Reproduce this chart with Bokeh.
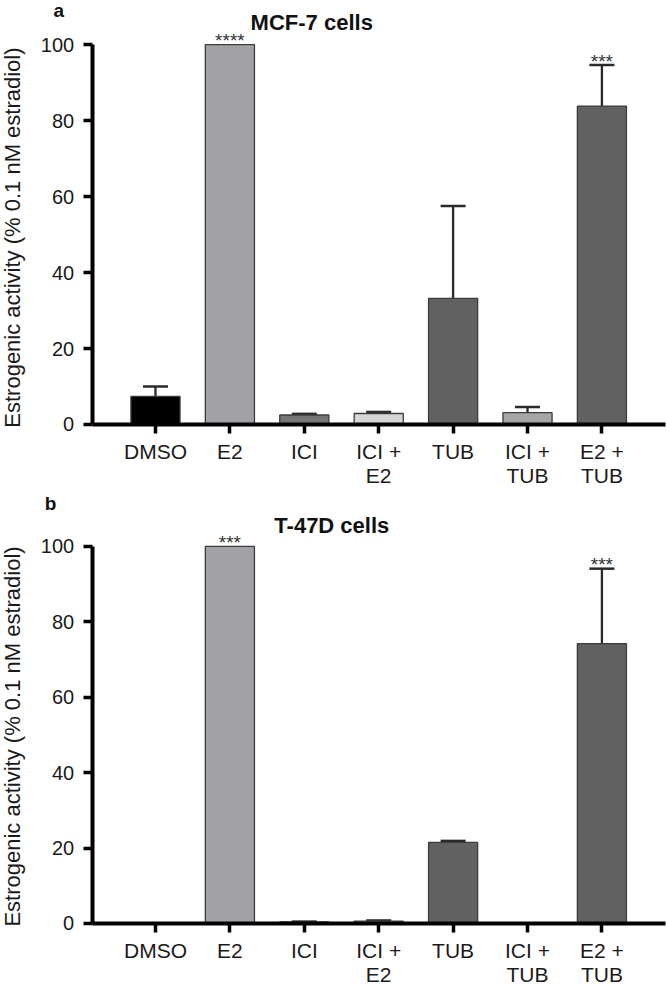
import math
from bokeh.plotting import figure
from bokeh.models import Range1d, FixedTicker, Label, Whisker, ColumnDataSource, TeeHead
from bokeh.layouts import column
from bokeh.embed import file_html
from bokeh.resources import INLINE
from bokeh.core.properties import value

# ---------------- data ----------------
categories = ["DMSO", "E2", "ICI", "ICI +\nE2", "TUB", "ICI +\nTUB", "E2 +\nTUB"]
bar_colors = ["#000000", "#a2a2a6", "#767676", "#d6d6d6", "#616161", "#a6a6a6", "#616161"]

mcf7_mean = [7.4, 100.0, 2.5, 2.9, 33.2, 3.1, 83.8]
mcf7_err = [2.6, 0.0, 0.3, 0.4, 24.3, 1.5, 10.8]
mcf7_sig = ["", "****", "", "", "", "", "***"]

t47d_mean = [0.0, 100.0, 0.4, 0.6, 21.5, 0.0, 74.2]
t47d_err = [0.0, 0.0, 0.1, 0.2, 0.4, 0.0, 19.9]
t47d_sig = ["", "***", "", "", "", "", "***"]

y_ticks = [0, 20, 40, 60, 80, 100]
y_label = "Estrogenic activity (% 0.1 nM estradiol)"

FONT = "Liberation Sans"


def make_panel(mean, err, sig, title, letter, height, y_lo, y_hi,
               title_x, title_y, letter_x, letter_y, ylab_y):
    x = list(range(len(categories)))
    p = figure(width=666, height=height,
               x_range=Range1d(-2.083, 6.868), y_range=Range1d(y_lo, y_hi),
               output_backend="svg", toolbar_location=None,
               min_border=0, min_border_left=0, min_border_right=0,
               min_border_top=0, min_border_bottom=0)
    p.outline_line_color = None
    p.xgrid.visible = False
    p.ygrid.visible = False
    p.background_fill_color = "white"
    p.border_fill_color = "white"

    src = ColumnDataSource(dict(x=x, top=mean, color=bar_colors))
    p.vbar(x="x", top="top", bottom=0, width=0.66, fill_color="color",
           line_color="#3c3c3c", line_width=1.3, source=src)

    ex = [xi for xi, e in zip(x, err) if e > 0]
    elo = [m for m, e in zip(mean, err) if e > 0]
    ehi = [m + e for m, e in zip(mean, err) if e > 0]
    esrc = ColumnDataSource(dict(x=ex, lower=elo, upper=ehi))
    w = Whisker(base="x", lower="lower", upper="upper", source=esrc,
                line_color="#2a2a2a", line_width=2.3,
                upper_head=TeeHead(size=25, line_color="#2a2a2a", line_width=2.5),
                lower_head=None)
    p.add_layout(w)

    sx = [xi for xi, s in zip(x, sig) if s]
    sy = [m + e for m, e, s in zip(mean, err, sig) if s]
    st = [s for s in sig if s]
    ssrc = ColumnDataSource(dict(x=sx, y=sy, t=st))
    p.text(x="x", y="y", text="t", source=ssrc, text_align="center",
           text_baseline="alphabetic", text_font=value(FONT),
           text_font_size="19px", text_color="#333333", y_offset=-4)

    # axes (placed inside the full-canvas frame)
    p.xaxis.fixed_location = 0
    p.yaxis.fixed_location = -0.85
    p.xaxis.bounds = (-0.85, 6.85)
    p.yaxis.bounds = (0, 100)
    p.xaxis.ticker = FixedTicker(ticks=x)
    p.xaxis.major_label_overrides = {i: c for i, c in zip(x, categories)}
    p.yaxis.ticker = FixedTicker(ticks=y_ticks)
    for ax in (p.xaxis, p.yaxis):
        ax.axis_line_width = 4
        ax.axis_line_color = "black"
        ax.major_tick_line_width = 3.5
        ax.major_tick_line_color = "black"
        ax.major_tick_out = 9
        ax.major_tick_in = 0
        ax.minor_tick_line_color = None
        ax.major_label_text_font = FONT
        ax.major_label_text_color = "#1a1a1a"
    p.yaxis.major_label_text_font_size = "20px"
    p.xaxis.major_label_text_font_size = "21px"
    p.yaxis.major_label_standoff = 9
    p.xaxis.major_label_standoff = 7
    p.xaxis.major_label_text_line_height = 1.02

    p.add_layout(Label(x=title_x, y=title_y, text=title, text_font=FONT,
                       text_font_size="22px", text_font_style="bold",
                       text_align="center", text_baseline="middle",
                       text_color="#111111"))
    p.add_layout(Label(x=letter_x, y=letter_y, text=letter, text_font=FONT,
                       text_font_size="19px", text_font_style="bold",
                       text_align="center", text_baseline="middle",
                       text_color="#111111"))
    p.add_layout(Label(x=-1.92, y=ylab_y, text=y_label, text_font=FONT,
                       text_font_size="22px", angle=math.pi / 2,
                       text_align="center", text_baseline="middle",
                       text_color="#1a1a1a"))
    return p


p1 = make_panel(mcf7_mean, mcf7_err, mcf7_sig, "MCF-7 cells", "a", 492, -17.9, 111.6,
                2.10, 105.8, -1.30, 108.9, 49.2)
p2 = make_panel(t47d_mean, t47d_err, t47d_sig, "T-47D cells", "b", 493, -16.45, 114.3,
                2.37, 105.6, -1.41, 111.3, 49.6)

layout = column(p1, p2, spacing=0)
open("out.html", "w").write(file_html(layout, INLINE))
